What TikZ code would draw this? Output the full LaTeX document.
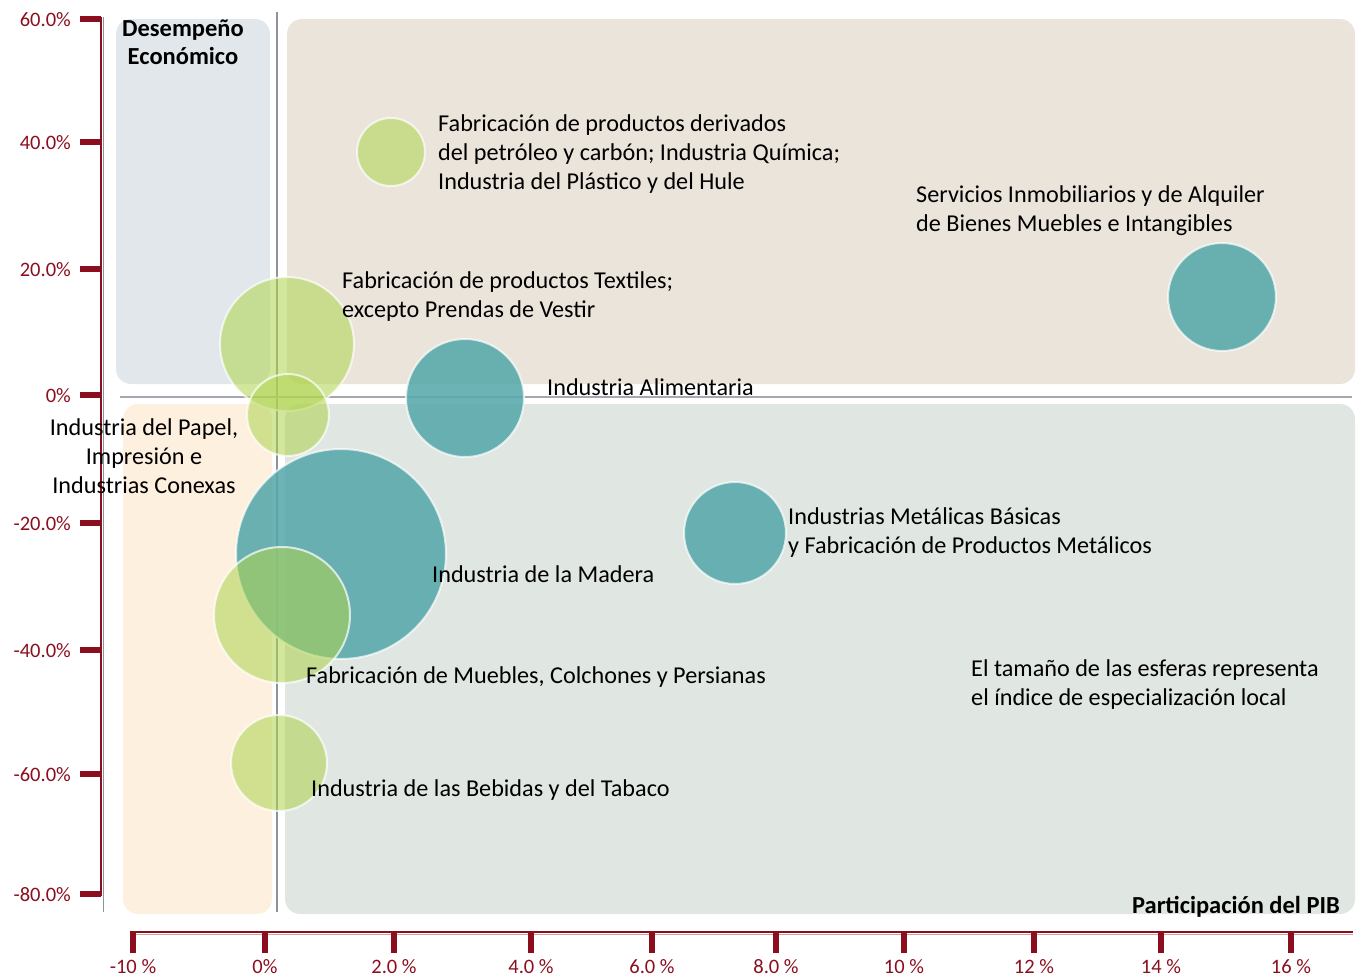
\documentclass[tikz,border=0pt]{standalone}
\usepackage{fontspec}
\setmainfont{Carlito}
\usetikzlibrary{calc}
\definecolor{axred}{HTML}{8B0E1E}
\definecolor{qtl}{HTML}{E2E7EB}
\definecolor{qtr}{HTML}{EBE4DB}
\definecolor{qbl}{HTML}{FEF0DF}
\definecolor{qbr}{HTML}{E0E6E2}
\definecolor{bgreen}{HTML}{AFD44F}
\definecolor{bteal}{HTML}{57A8AA}
\definecolor{guide}{HTML}{8E949C}
\tikzset{
  quad/.style={rounded corners=15pt, draw=none},
  gbub/.style={circle, fill=bgreen, fill opacity=0.56, draw=white, draw opacity=0.7, line width=2pt, inner sep=0pt},
  tbub/.style={circle, fill=bteal, fill opacity=0.88, draw=white, draw opacity=0.7, line width=2pt, inner sep=0pt},
  lbl/.style={font=\fontsize{24.2}{29}\selectfont, text=black, inner sep=0pt, align=left, anchor=base west},
  ylab/.style={font=\fontsize{20.5}{20}\selectfont, text=axred, inner sep=0pt, anchor=base east},
  xlab/.style={font=\fontsize{20.5}{20}\selectfont, text=axred, inner sep=0pt, anchor=base},
  ytick/.style={axred, line width=6pt},
  xtick/.style={axred, line width=6pt},
  bold/.style={font=\bfseries\fontsize{24.5}{28}\selectfont},
}
\begin{document}
\begin{tikzpicture}[x=1pt,y=-1pt]
\useasboundingbox (0,0) rectangle (1358,977);
% quadrants
\fill[qtl, quad] (116,19) rectangle (270,384);
\fill[qtr, quad] (287,19) rectangle (1355,384);
\fill[qbl, quad] (123,404) rectangle (272,914);
\fill[qbr, quad] (285,404) rectangle (1355,914);
% guide lines
\coordinate (vt) at (277,12); \coordinate (vb) at (277,912);
\coordinate (hl) at (120,397); \coordinate (hr) at (1352,397);
\draw[guide, line width=1.5pt] (vt) -- (vb);
\draw[guide!80, line width=1.8pt] (hl) -- (hr);
% left axis
\coordinate (ya) at (103,17); \coordinate (yb) at (103,912);
\draw[guide, line width=1pt] (ya) -- (yb);
\coordinate (yra) at (101,17); \coordinate (yrb) at (101,896);
\draw[axred, line width=2.6pt] (yra) -- (yrb);
\foreach \yy/\tt in {19/60.0\%,142/40.0\%,269/20.0\%,395/0\%,523/-20.0\%,650/-40.0\%,774/-60.0\%,894/-80.0\%}{
  \draw[ytick] (80,\yy) -- (101,\yy);
  \node[ylab] at (71,\yy+7) {\tt};
}
% bottom axis
\coordinate (xa) at (132,932); \coordinate (xb) at (1353,932);
\draw[axred!40, line width=1pt] ($(xa)+(0,2)$) -- ($(xb)+(0,2)$);
\draw[axred, line width=2.4pt] (xa) -- (xb);
\foreach \xx/\tt in {133/-10 \%,265/0\%,394/2.0 \%,531/4.0 \%,652/6.0 \%,776/8.0 \%,904/10 \%,1034/12 \%,1161/14 \%,1291/16 \%}{
  \draw[xtick] (\xx,931) -- (\xx,953);
  \node[xlab] at (\xx,973) {\tt};
}
% bubbles
\node[gbub, minimum size=68pt] (pet) at (391,152) {};
\node[tbub, minimum size=108pt] (inm) at (1222,297) {};
\node[gbub, minimum size=134pt] (tex) at (287,344) {};
\node[gbub, minimum size=82pt] (pap) at (288,415) {};
\node[tbub, minimum size=118pt] (ali) at (465,398) {};
\node[tbub, minimum size=210pt] (mad) at (341,554) {};
\node[gbub, minimum size=136pt] (mue) at (282,615) {};
\node[gbub, minimum size=96pt] (beb) at (279,763) {};
\node[tbub, minimum size=102pt] (met) at (735,533) {};
% labels (base anchor = baseline of last line)
\node[lbl] (lpet) at (438,189) {Fabricación de productos derivados\\del petróleo y carbón; Industria Química;\\Industria del Plástico y del Hule};
\node[lbl] (linm) at (916,231) {Servicios Inmobiliarios y de Alquiler\\de Bienes Muebles e Intangibles};
\node[lbl] (ltex) at (342,317) {Fabricación de productos Textiles;\\excepto Prendas de Vestir};
\node[lbl] (lali) at (547,395) {Industria Alimentaria};
\node[lbl, align=center, anchor=base] (lpap) at (144,493) {Industria del Papel,\\Impresión e\\Industrias Conexas};
\node[lbl] (lmet) at (788,553) {Industrias Metálicas Básicas\\y Fabricación de Productos Metálicos};
\node[lbl] (lmad) at (432,582) {Industria de la Madera};
\node[lbl] (lmue) at (306,683) {Fabricación de Muebles, Colchones y Persianas};
\node[lbl] (lesf) at (971,705) {El tamaño de las esferas representa\\el índice de especialización local};
\node[lbl] (lbeb) at (311,796) {Industria de las Bebidas y del Tabaco};
\node[lbl, bold, align=center, anchor=base] (ldes) at (183,64) {Desempeño\\Económico};
\node[lbl, bold, anchor=base east] (lpib) at (1340,913) {Participación del PIB};
\end{tikzpicture}
\end{document}
